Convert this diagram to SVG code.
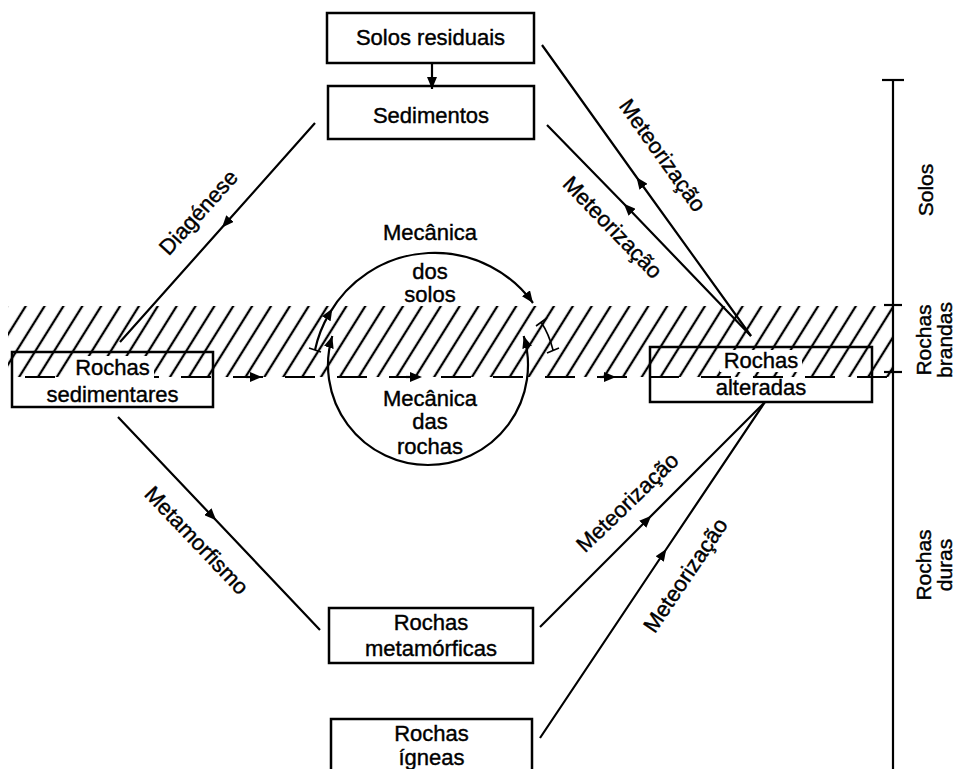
<svg xmlns="http://www.w3.org/2000/svg" width="961" height="769" viewBox="0 0 961 769">
<defs>
<style>
text{font-family:"Liberation Sans",Arial,sans-serif;font-size:22px;fill:#000;stroke:#000;stroke-width:0.4;text-anchor:middle}
.box{fill:none;stroke:#000;stroke-width:2.5}
.ln{fill:none;stroke:#000;stroke-width:2.2}
.thin{fill:none;stroke:#000;stroke-width:1.6}
.bg{fill:#fff}
.ax{font-size:21px}
</style>
<pattern id="hatch" patternUnits="userSpaceOnUse" width="16" height="20" patternTransform="rotate(32)">
<line x1="8" y1="-1" x2="8" y2="21" stroke="#000" stroke-width="2.3"/>
</pattern>
<marker id="mid" viewBox="0 0 12 10" refX="6" refY="5" markerWidth="12" markerHeight="10" markerUnits="userSpaceOnUse" orient="auto"><path d="M0,0 L12,5 L0,10 z"/></marker>
<marker id="end" viewBox="0 0 12 10" refX="12" refY="5" markerWidth="12" markerHeight="10" markerUnits="userSpaceOnUse" orient="auto-start-reverse"><path d="M0,0 L12,5 L0,10 z"/></marker>
</defs>
<rect width="961" height="769" fill="#fff"/>

<g id="hatch-band">
<rect x="8" y="306" width="885" height="71" fill="url(#hatch)"/>
<line x1="25" y1="377" x2="893" y2="377" class="ln" stroke-width="2.5" stroke-dasharray="30 22"/>
<line x1="246" y1="377" x2="256" y2="377" class="ln" marker-end="url(#mid)"/>
<line x1="406" y1="377" x2="416" y2="377" class="ln" marker-end="url(#mid)"/>
<line x1="600" y1="377" x2="610" y2="377" class="ln" marker-end="url(#mid)"/>
</g>

<g id="scale">
<line x1="893" y1="80" x2="893" y2="769" class="ln" stroke-width="2.5"/>
<line x1="882" y1="80" x2="904" y2="80" class="ln"/>
<line x1="884" y1="305" x2="902" y2="305" class="ln"/>
<line x1="884" y1="372" x2="902" y2="372" class="ln"/>
<text class="ax" transform="translate(933,190) rotate(-90)">Solos</text>
<text class="ax" transform="translate(931,340) rotate(-90)">Rochas</text>
<text class="ax" transform="translate(952,340) rotate(-90)">brandas</text>
<text class="ax" transform="translate(931,565) rotate(-90)">Rochas</text>
<text class="ax" transform="translate(952,565) rotate(-90)">duras</text>
</g>

<g id="connectors">
<line x1="432" y1="63" x2="432" y2="89" class="ln" marker-end="url(#end)"/>
<polyline class="ln" points="315,123 226,223 120,342" marker-mid="url(#mid)"/>
<polyline class="ln" points="118,417 212,516 320,630" marker-mid="url(#mid)"/>
<polyline class="ln" points="751,336 640,182 542,45" marker-mid="url(#mid)"/>
<polyline class="ln" points="751,336 628,208 547,125" marker-mid="url(#mid)"/>
<polyline class="ln" points="540,627 647,520 765,402" marker-mid="url(#mid)"/>
<polyline class="ln" points="540,738 663,554 765,402" marker-mid="url(#mid)"/>
<text transform="translate(198,212) rotate(-48)" y="8">Diagénese</text>
<text transform="translate(197,540) rotate(46.5)" y="8">Metamorfismo</text>
<text transform="translate(663,155) rotate(54.6)" y="8">Meteorização</text>
<text transform="translate(613,227) rotate(46)" y="8">Meteorização</text>
<text transform="translate(627,502) rotate(-44)" y="8">Meteorização</text>
<text transform="translate(685,575) rotate(-56)" y="8">Meteorização</text>
</g>

<g id="mecanica">
<path class="ln" d="M315,350 A121.6,121.6 0 0 1 329.3,313.6 A121.6,121.6 0 0 1 533,303" marker-mid="url(#mid)" marker-end="url(#end)"/>
<path class="thin" d="M309,348 L321,352"/>
<path class="thin" d="M541,322 Q549,334 553,350 M536,326 L547,318 M547,353 L559,348"/>
<path class="ln" d="M332.3,336 A100,100 0 1 0 523.7,336" marker-start="url(#end)" marker-end="url(#end)"/>
<text x="430" y="240">Mecânica</text>
<text x="430" y="279">dos</text>
<text x="430" y="302">solos</text>
<text x="430" y="406">Mecânica</text>
<text x="430" y="429">das</text>
<text x="430" y="454">rochas</text>
</g>

<g id="solos-residuais">
<rect class="box" x="327" y="13" width="207" height="50"/>
<text x="430.5" y="45">Solos residuais</text>
</g>

<g id="sedimentos">
<rect class="box" x="328" y="86" width="206" height="53"/>
<text x="431" y="123">Sedimentos</text>
</g>

<g id="rochas-sedimentares">
<rect class="box" x="12" y="352" width="201" height="55"/>
<rect class="bg" x="72" y="356" width="82" height="22"/>
<text x="112.5" y="375">Rochas</text>
<text x="112.5" y="402">sedimentares</text>
</g>

<g id="rochas-alteradas">
<rect class="box" x="650" y="347" width="222" height="55"/>
<rect class="bg" x="720" y="350" width="82" height="22"/>
<text x="761" y="368">Rochas</text>
<text x="761" y="395">alteradas</text>
</g>

<g id="rochas-metamorficas">
<rect class="box" x="329" y="608" width="204" height="55"/>
<text x="431" y="630">Rochas</text>
<text x="431" y="656">metamórficas</text>
</g>

<g id="rochas-igneas">
<rect class="box" x="331" y="719" width="201" height="60"/>
<text x="431.5" y="741">Rochas</text>
<text x="431.5" y="765">ígneas</text>
</g>
</svg>
